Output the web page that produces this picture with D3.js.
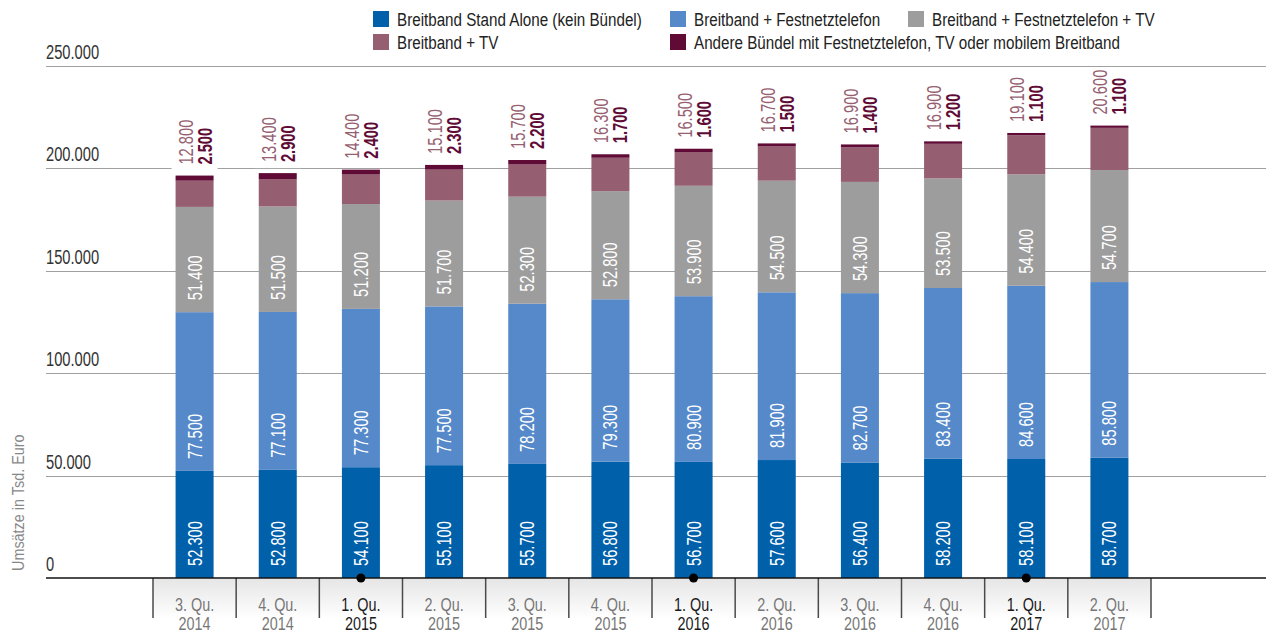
<!DOCTYPE html>
<html><head><meta charset="utf-8">
<script src="https://cdn.jsdelivr.net/npm/d3@7"></script>
<style>
html,body{margin:0;padding:0;background:#fff;}
svg{display:block;font-family:"Liberation Sans",Arial,sans-serif;}
</style></head>
<body><svg id="chart" width="1266" height="634"></svg>
<script>
const quarters = ["3. Qu.","4. Qu.","1. Qu.","2. Qu.","3. Qu.","4. Qu.","1. Qu.","2. Qu.","3. Qu.","4. Qu.","1. Qu.","2. Qu."];
const years = ["2014","2014","2015","2015","2015","2015","2016","2016","2016","2016","2017","2017"];
const seriesNames = ["Breitband Stand Alone (kein Bündel)","Breitband + Festnetztelefon","Breitband + Festnetztelefon + TV","Breitband + TV","Andere Bündel mit Festnetztelefon, TV oder mobilem Breitband"];
const standAlone = [52300,52800,54100,55100,55700,56800,56700,57600,56400,58200,58100,58700];
const festnetz = [77500,77100,77300,77500,78200,79300,80900,81900,82700,83400,84600,85800];
const festnetzTV = [51400,51500,51200,51700,52300,52800,53900,54500,54300,53500,54400,54700];
const breitbandTV = [12800,13400,14400,15100,15700,16300,16500,16700,16900,16900,19100,20600];
const andere = [2500,2900,2400,2300,2200,1700,1600,1500,1400,1200,1100,1100];
const yTicks = [0,50000,100000,150000,200000,250000];
const colors = ["#0060aa","#5589c9","#9d9d9d","#965f71","#600b35"];

const SX = 0.735;   // horizontal condensing for numbers
const SXT = 0.8;    // horizontal condensing for words

const svg = d3.select("#chart");
const fmt = d3.formatLocale({decimal:",",thousands:".",grouping:[3],currency:["","€"]}).format(",");
const cats = quarters.map((q,i)=>i);
const seriesData = [standAlone,festnetz,festnetzTV,breitbandTV,andere];

const x = d3.scaleBand().domain(cats).range([153,1151]).padding(0);
const y = d3.scaleLinear().domain([0,250000]).range([578,66]);
const barW = x.bandwidth()*0.457;

// gridlines
svg.append("g").selectAll("line").data(yTicks.filter(d=>d>0)).join("line")
  .attr("x1",46).attr("x2",1266).attr("y1",d=>Math.round(y(d))+0.5).attr("y2",d=>Math.round(y(d))+0.5)
  .attr("stroke","#a0a0a0").attr("stroke-width",1);
svg.append("g").selectAll("text").data(yTicks).join("text")
  .attr("transform",d=>`translate(46,${y(d)-7}) scale(${SX},1)`).attr("font-size",20).attr("fill","#333")
  .text(d=>fmt(d));

// y title
svg.append("text").attr("transform","translate(24,571) rotate(-90) scale(0.9,1)")
  .attr("font-size",16).attr("fill","#888").text("Umsätze in Tsd. Euro");

// x boxes
const defs = svg.append("defs");
const grad = defs.append("linearGradient").attr("id","bg").attr("x1",0).attr("x2",0).attr("y1",0).attr("y2",1);
grad.append("stop").attr("offset","0%").attr("stop-color","#e6e6e6");
grad.append("stop").attr("offset","100%").attr("stop-color","#ffffff");
svg.append("g").selectAll("rect").data(cats).join("rect")
  .attr("x",d=>x(d)).attr("y",579).attr("width",x.bandwidth()).attr("height",40).attr("fill","url(#bg)");
const bounds = cats.map(d=>x(d)).concat([x(cats[cats.length-1])+x.bandwidth()]);
svg.append("g").selectAll("line").data(bounds).join("line")
  .attr("x1",d=>d).attr("x2",d=>d).attr("y1",578).attr("y2",618)
  .attr("stroke","#4a4a4a").attr("stroke-width",1.5);

// stacks
const table = cats.map(i=>{const o={i}; seriesData.forEach((s,k)=>o["s"+k]=s[i]); return o;});
const stacked = d3.stack().keys(seriesData.map((s,k)=>"s"+k))(table);
const gBars = svg.append("g");
stacked.forEach((layer,k)=>{
  gBars.append("g").selectAll("rect").data(layer).join("rect")
    .attr("x",d=>x(d.data.i)+x.bandwidth()/2-barW/2).attr("width",barW)
    .attr("y",d=>y(d[1])).attr("height",d=>y(d[0])-y(d[1])).attr("fill",colors[k]);
});
// in-bar labels
stacked.slice(0,3).forEach((layer,k)=>{
  gBars.append("g").selectAll("text").data(layer).join("text")
    .attr("transform",d=>`translate(${x(d.data.i)+x.bandwidth()/2+7},${y(d[0])-12}) rotate(-90) scale(${SX},1)`)
    .attr("font-size",20).attr("fill","#fff").text(d=>fmt(d[1]-d[0]));
});
// top labels
const topLayer = stacked[4];
const gTop = svg.append("g");
gTop.selectAll("rect").data(topLayer).join("rect")
  .attr("x",d=>x(d.data.i)+x.bandwidth()/2-23).attr("width",46)
  .attr("y",d=>y(d[1])-57).attr("height",52).attr("fill","#fff");
gTop.selectAll("text.a").data(topLayer).join("text").attr("class","a")
  .attr("transform",d=>`translate(${x(d.data.i)+x.bandwidth()/2-2},${y(d[1])-11}) rotate(-90) scale(${SX},1)`)
  .attr("font-size",20).attr("fill","#965f71").text(d=>fmt(breitbandTV[d.data.i]));
gTop.selectAll("text.b").data(topLayer).join("text").attr("class","b")
  .attr("transform",d=>`translate(${x(d.data.i)+x.bandwidth()/2+17},${y(d[1])-11}) rotate(-90) scale(${SX},1)`)
  .attr("font-size",20).attr("font-weight","bold").attr("fill","#600b35").text(d=>fmt(andere[d.data.i]));

// baseline
svg.append("line").attr("x1",46).attr("x2",1266).attr("y1",578).attr("y2",578)
  .attr("stroke","#111").attr("stroke-width",1.5);

// x labels
const gx = svg.append("g");
cats.forEach(i=>{
  const cx = x(i)+x.bandwidth()/2;
  const q1 = quarters[i].startsWith("1.");
  const col = q1 ? "#1a1a1a" : "#777";
  gx.append("text").attr("transform",`translate(${cx},611) scale(${SXT},1)`).attr("text-anchor","middle").attr("font-size",18).attr("fill",col).text(quarters[i]);
  gx.append("text").attr("transform",`translate(${cx},630) scale(${SXT},1)`).attr("text-anchor","middle").attr("font-size",18).attr("fill",col).text(years[i]);
  if(q1) gx.append("circle").attr("cx",cx).attr("cy",578).attr("r",4.5).attr("fill","#000");
});

// legend
const legendPos = [[373,11],[670,11],[908,11],[373,34],[670,34]];
const lg = svg.append("g");
seriesNames.forEach((n,k)=>{
  const [lx,ly] = legendPos[k];
  lg.append("rect").attr("x",lx).attr("y",ly).attr("width",16).attr("height",16).attr("fill",colors[k]);
  lg.append("text").attr("transform",`translate(${lx+24},${ly+15}) scale(${SXT},1)`).attr("font-size",19).attr("fill","#222").text(n);
});
</script></body></html>
